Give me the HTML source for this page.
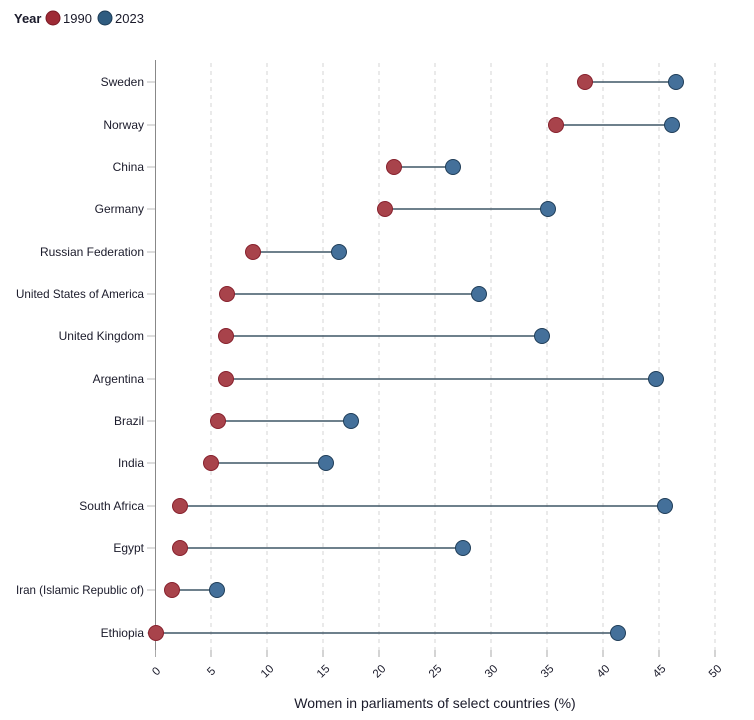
<!DOCTYPE html>
<html><head><meta charset="utf-8"><style>
html,body{margin:0;padding:0;background:#fff;}
svg{display:block;font-family:"Liberation Sans",sans-serif;}
</style></head><body>
<svg width="754" height="720" viewBox="0 0 754 720" xmlns="http://www.w3.org/2000/svg">
<!-- legend -->
<text x="14" y="23" font-size="13" font-weight="bold" fill="#1a1a2a">Year</text>
<circle cx="53" cy="18" r="7" fill="#9e2a35" stroke="#7a1a24" stroke-width="1"/>
<text x="63" y="23" font-size="13" fill="#1a1a2a">1990</text>
<circle cx="105" cy="18" r="7" fill="#2f5c80" stroke="#1d3c56" stroke-width="1"/>
<text x="115" y="23" font-size="13" fill="#1a1a2a">2023</text>

<!-- grid -->
<g stroke="#d6d6d6" stroke-width="1" stroke-dasharray="4,4">
<line x1="211" y1="63" x2="211" y2="650"/>
<line x1="267" y1="63" x2="267" y2="650"/>
<line x1="323" y1="63" x2="323" y2="650"/>
<line x1="379" y1="63" x2="379" y2="650"/>
<line x1="435" y1="63" x2="435" y2="650"/>
<line x1="491" y1="63" x2="491" y2="650"/>
<line x1="547" y1="63" x2="547" y2="650"/>
<line x1="603" y1="63" x2="603" y2="650"/>
<line x1="659" y1="63" x2="659" y2="650"/>
<line x1="715" y1="63" x2="715" y2="650"/>
</g>
<!-- x ticks -->
<g stroke="#aaa" stroke-width="1">
<line x1="155.5" y1="650" x2="155.5" y2="657"/>
<line x1="211" y1="650" x2="211" y2="657"/>
<line x1="267" y1="650" x2="267" y2="657"/>
<line x1="323" y1="650" x2="323" y2="657"/>
<line x1="379" y1="650" x2="379" y2="657"/>
<line x1="435" y1="650" x2="435" y2="657"/>
<line x1="491" y1="650" x2="491" y2="657"/>
<line x1="547" y1="650" x2="547" y2="657"/>
<line x1="603" y1="650" x2="603" y2="657"/>
<line x1="659" y1="650" x2="659" y2="657"/>
<line x1="715" y1="650" x2="715" y2="657"/>
</g>
<!-- y axis -->
<line x1="155.5" y1="60" x2="155.5" y2="650" stroke="#888" stroke-width="1"/>
<g stroke="#bbb" stroke-width="1">
<line x1="147" y1="82" x2="155" y2="82"/>
<line x1="147" y1="125" x2="155" y2="125"/>
<line x1="147" y1="167" x2="155" y2="167"/>
<line x1="147" y1="209" x2="155" y2="209"/>
<line x1="147" y1="252" x2="155" y2="252"/>
<line x1="147" y1="294" x2="155" y2="294"/>
<line x1="147" y1="336" x2="155" y2="336"/>
<line x1="147" y1="379" x2="155" y2="379"/>
<line x1="147" y1="421" x2="155" y2="421"/>
<line x1="147" y1="463" x2="155" y2="463"/>
<line x1="147" y1="506" x2="155" y2="506"/>
<line x1="147" y1="548" x2="155" y2="548"/>
<line x1="147" y1="590" x2="155" y2="590"/>
<line x1="147" y1="633" x2="155" y2="633"/>
</g>
<!-- tick labels x -->
<g font-size="11.5" fill="#1a1a2a" text-anchor="middle">
<text transform="translate(156,671) rotate(-45)" dy="4">0</text>
<text transform="translate(211,671) rotate(-45)" dy="4">5</text>
<text transform="translate(267,671) rotate(-45)" dy="4">10</text>
<text transform="translate(323,671) rotate(-45)" dy="4">15</text>
<text transform="translate(379,671) rotate(-45)" dy="4">20</text>
<text transform="translate(435,671) rotate(-45)" dy="4">25</text>
<text transform="translate(491,671) rotate(-45)" dy="4">30</text>
<text transform="translate(547,671) rotate(-45)" dy="4">35</text>
<text transform="translate(603,671) rotate(-45)" dy="4">40</text>
<text transform="translate(659,671) rotate(-45)" dy="4">45</text>
<text transform="translate(715,671) rotate(-45)" dy="4">50</text>
</g>
<text x="435" y="708" font-size="14" fill="#1a1a2a" text-anchor="middle">Women in parliaments of select countries (%)</text>
<!-- y labels -->
<g font-size="12" fill="#1a1a2a" text-anchor="end">
<text x="144" y="86">Sweden</text>
<text x="144" y="129">Norway</text>
<text x="144" y="171">China</text>
<text x="144" y="213">Germany</text>
<text x="144" y="256">Russian Federation</text>
<text x="144" y="298" textLength="128" lengthAdjust="spacingAndGlyphs">United States of America</text>
<text x="144" y="340">United Kingdom</text>
<text x="144" y="383">Argentina</text>
<text x="144" y="425">Brazil</text>
<text x="144" y="467">India</text>
<text x="144" y="510">South Africa</text>
<text x="144" y="552">Egypt</text>
<text x="144" y="594" textLength="128" lengthAdjust="spacingAndGlyphs">Iran (Islamic Republic of)</text>
<text x="144" y="637">Ethiopia</text>
</g>
<!-- connectors -->
<g stroke="#3f5666" stroke-width="1.5">
<line x1="585" y1="82" x2="676" y2="82"/>
<line x1="556" y1="125" x2="672" y2="125"/>
<line x1="394" y1="167" x2="453" y2="167"/>
<line x1="385" y1="209" x2="548" y2="209"/>
<line x1="253" y1="252" x2="339" y2="252"/>
<line x1="227" y1="294" x2="479" y2="294"/>
<line x1="226" y1="336" x2="542" y2="336"/>
<line x1="226" y1="379" x2="656" y2="379"/>
<line x1="218" y1="421" x2="351" y2="421"/>
<line x1="211" y1="463" x2="326" y2="463"/>
<line x1="180" y1="506" x2="665" y2="506"/>
<line x1="180" y1="548" x2="463" y2="548"/>
<line x1="172" y1="590" x2="217" y2="590"/>
<line x1="156" y1="633" x2="618" y2="633"/>
</g>
<!-- 1990 -->
<g fill="#a8434b" stroke="#86202c" stroke-width="1">
<circle cx="585" cy="82" r="7.5"/>
<circle cx="556" cy="125" r="7.5"/>
<circle cx="394" cy="167" r="7.5"/>
<circle cx="385" cy="209" r="7.5"/>
<circle cx="253" cy="252" r="7.5"/>
<circle cx="227" cy="294" r="7.5"/>
<circle cx="226" cy="336" r="7.5"/>
<circle cx="226" cy="379" r="7.5"/>
<circle cx="218" cy="421" r="7.5"/>
<circle cx="211" cy="463" r="7.5"/>
<circle cx="180" cy="506" r="7.5"/>
<circle cx="180" cy="548" r="7.5"/>
<circle cx="172" cy="590" r="7.5"/>
<circle cx="156" cy="633" r="7.5"/>
</g>
<!-- 2023 -->
<g fill="#44709a" stroke="#1f3d58" stroke-width="1">
<circle cx="676" cy="82" r="7.5"/>
<circle cx="672" cy="125" r="7.5"/>
<circle cx="453" cy="167" r="7.5"/>
<circle cx="548" cy="209" r="7.5"/>
<circle cx="339" cy="252" r="7.5"/>
<circle cx="479" cy="294" r="7.5"/>
<circle cx="542" cy="336" r="7.5"/>
<circle cx="656" cy="379" r="7.5"/>
<circle cx="351" cy="421" r="7.5"/>
<circle cx="326" cy="463" r="7.5"/>
<circle cx="665" cy="506" r="7.5"/>
<circle cx="463" cy="548" r="7.5"/>
<circle cx="217" cy="590" r="7.5"/>
<circle cx="618" cy="633" r="7.5"/>
</g>
</svg>
</body></html>
